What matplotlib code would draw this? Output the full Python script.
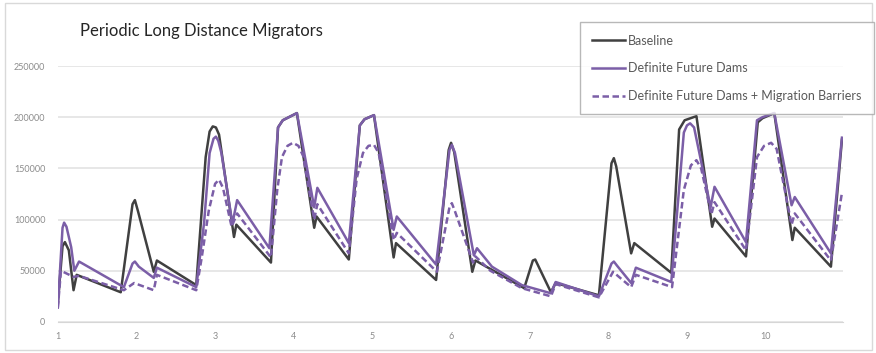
import matplotlib.pyplot as plt
from matplotlib.patches import Rectangle

# Baseline population
base_x = [1.00, 1.06, 1.09, 1.14, 1.20, 1.24, 1.80, 1.95, 1.98, 2.02, 2.22, 2.26, 2.76, 2.88,
          2.93, 2.97, 3.01, 3.05, 3.24, 3.27, 3.71, 3.80, 3.86, 4.04, 4.26, 4.29, 4.70, 4.84,
          4.90, 5.02, 5.27, 5.30, 5.81, 5.97, 6.00, 6.04, 6.27, 6.31, 6.93, 7.04, 7.07, 7.27,
          7.33, 7.88, 8.04, 8.07, 8.10, 8.29, 8.33, 8.80, 8.90, 8.97, 9.12, 9.32, 9.35, 9.75,
          9.90, 9.96, 10.11, 10.34, 10.37, 10.83, 10.97]
base_y = [18000, 74000, 78000, 70000, 31000, 46000, 29000, 115000, 119000, 108000, 49000,
          60000, 36000, 161000, 186000, 191000, 190000, 183000, 83000, 95000, 58000, 190000,
          197000, 204000, 92000, 103000, 61000, 192000, 198000, 202000, 63000, 77000, 41000,
          168000, 175000, 166000, 49000, 60000, 33000, 60000, 61000, 29000, 38000, 26000,
          155000, 160000, 152000, 67000, 77000, 48000, 188000, 197000, 201000, 93000, 101000,
          64000, 195000, 199000, 204000, 80000, 92000, 54000, 178000]

# Definite future dams
dams_x = [1.00, 1.06, 1.08, 1.11, 1.14, 1.17, 1.21, 1.27, 1.84, 1.95, 1.98, 2.03, 2.22, 2.26,
          2.76, 2.86, 2.93, 2.98, 3.01, 3.04, 3.08, 3.22, 3.28, 3.69, 3.80, 3.86, 4.04, 4.26,
          4.30, 4.70, 4.84, 4.90, 5.02, 5.27, 5.31, 5.81, 5.98, 6.01, 6.05, 6.29, 6.33, 6.52,
          6.90, 7.27, 7.33, 7.88, 8.04, 8.07, 8.11, 8.29, 8.35, 8.80, 8.96, 9.00, 9.04, 9.09,
          9.30, 9.35, 9.75, 9.89, 9.96, 10.11, 10.33, 10.37, 10.83, 10.97]
dams_y = [14000, 92000, 97000, 93000, 83000, 73000, 50000, 59000, 34000, 57000, 59000, 54000,
          43000, 53000, 34000, 97000, 165000, 179000, 181000, 177000, 165000, 96000, 119000,
          72000, 190000, 197000, 204000, 112000, 131000, 77000, 192000, 198000, 202000, 90000,
          103000, 56000, 168000, 173000, 165000, 65000, 72000, 54000, 36000, 28000, 39000,
          25000, 57000, 59000, 55000, 38000, 53000, 39000, 185000, 192000, 194000, 190000,
          112000, 132000, 78000, 197000, 200000, 204000, 114000, 122000, 67000, 180000]

# Definite future dams + migration barriers
barr_x = [1.00, 1.04, 1.12, 1.20, 1.27, 1.84, 1.97, 2.22, 2.26, 2.76, 2.83, 2.92, 3.00, 3.05,
          3.10, 3.21, 3.28, 3.71, 3.79, 3.85, 3.92, 3.99, 4.06, 4.12, 4.26, 4.30, 4.70, 4.80,
          4.88, 4.95, 5.02, 5.08, 5.27, 5.31, 5.82, 5.98, 6.01, 6.05, 6.28, 6.31, 6.50, 6.90,
          7.27, 7.33, 7.88, 8.06, 8.12, 8.29, 8.35, 8.81, 8.96, 9.05, 9.12, 9.18, 9.31, 9.35,
          9.75, 9.89, 9.98, 10.07, 10.14, 10.33, 10.37, 10.83, 10.97]
barr_y = [14000, 50000, 47000, 44000, 45000, 31000, 38000, 31000, 46000, 31000, 63000, 109000,
          135000, 139000, 131000, 93000, 106000, 63000, 129000, 161000, 172000, 175000, 172000,
          162000, 100000, 115000, 67000, 140000, 165000, 172000, 173000, 165000, 80000, 87000,
          49000, 112000, 116000, 108000, 58000, 64000, 50000, 33000, 25000, 37000, 24000,
          49000, 45000, 34000, 46000, 34000, 129000, 153000, 158000, 150000, 105000, 117000,
          70000, 161000, 172000, 175000, 169000, 95000, 106000, 60000, 126000]

series_labels = ["Baseline", "Definite Future Dams",
                 "Definite Future Dams + Migration Barriers"]
year_ticks = [1, 2, 3, 4, 5, 6, 7, 8, 9, 10]
pop_ticks = [0, 50000, 100000, 150000, 200000, 250000]

purple = "#7b5ea7"
dark = "#404040"
plt.rcParams["font.family"] = ["Lato", "DejaVu Sans"]

fig = plt.figure(figsize=(8.76, 3.53), dpi=100)
ax = fig.add_axes([0.066, 0.088, 0.896, 0.725])

ax.plot(base_x, base_y, color=dark, lw=1.8, label=series_labels[0])
ax.plot(dams_x, dams_y, color=purple, lw=1.8, label=series_labels[1])
ax.plot(barr_x, barr_y, color=purple, lw=1.8, ls=(0, (2.6, 1.4)), label=series_labels[2])

ax.set_xlim(1, 10.98)
ax.set_ylim(0, 250000)
ax.set_xticks(year_ticks)
ax.set_yticks(pop_ticks)
ax.set_yticklabels([str(v) for v in pop_ticks])
ax.tick_params(length=0, labelsize=6.5, labelcolor="#8c8c8c", pad=9)
ax.tick_params(axis="x", pad=7)
ax.grid(axis="y", color="#e3e3e3", lw=1.2)
ax.set_axisbelow(True)
for s in ["top", "right", "left"]:
    ax.spines[s].set_visible(False)
ax.spines["bottom"].set_color("#d6d6d6")

fig.text(0.091, 0.912, "Periodic Long Distance Migrators", fontsize=12,
         color="#262626", va="center")

leg = fig.legend(loc="upper right", bbox_to_anchor=(0.998, 0.937), fontsize=9,
                 frameon=True, fancybox=False, edgecolor="#a6a6a6", labelspacing=1.25,
                 handlelength=2.6, handletextpad=0.3, borderpad=1.0, borderaxespad=0)
leg.get_frame().set_linewidth(1.0)
for t in leg.get_texts():
    t.set_color("#595959")

# chart border
fig.patches.append(Rectangle((0.006, 0.008), 0.99, 0.984, transform=fig.transFigure,
                             fill=False, edgecolor="#d9d9d9", lw=1))

fig.savefig("out.png", dpi=100)
